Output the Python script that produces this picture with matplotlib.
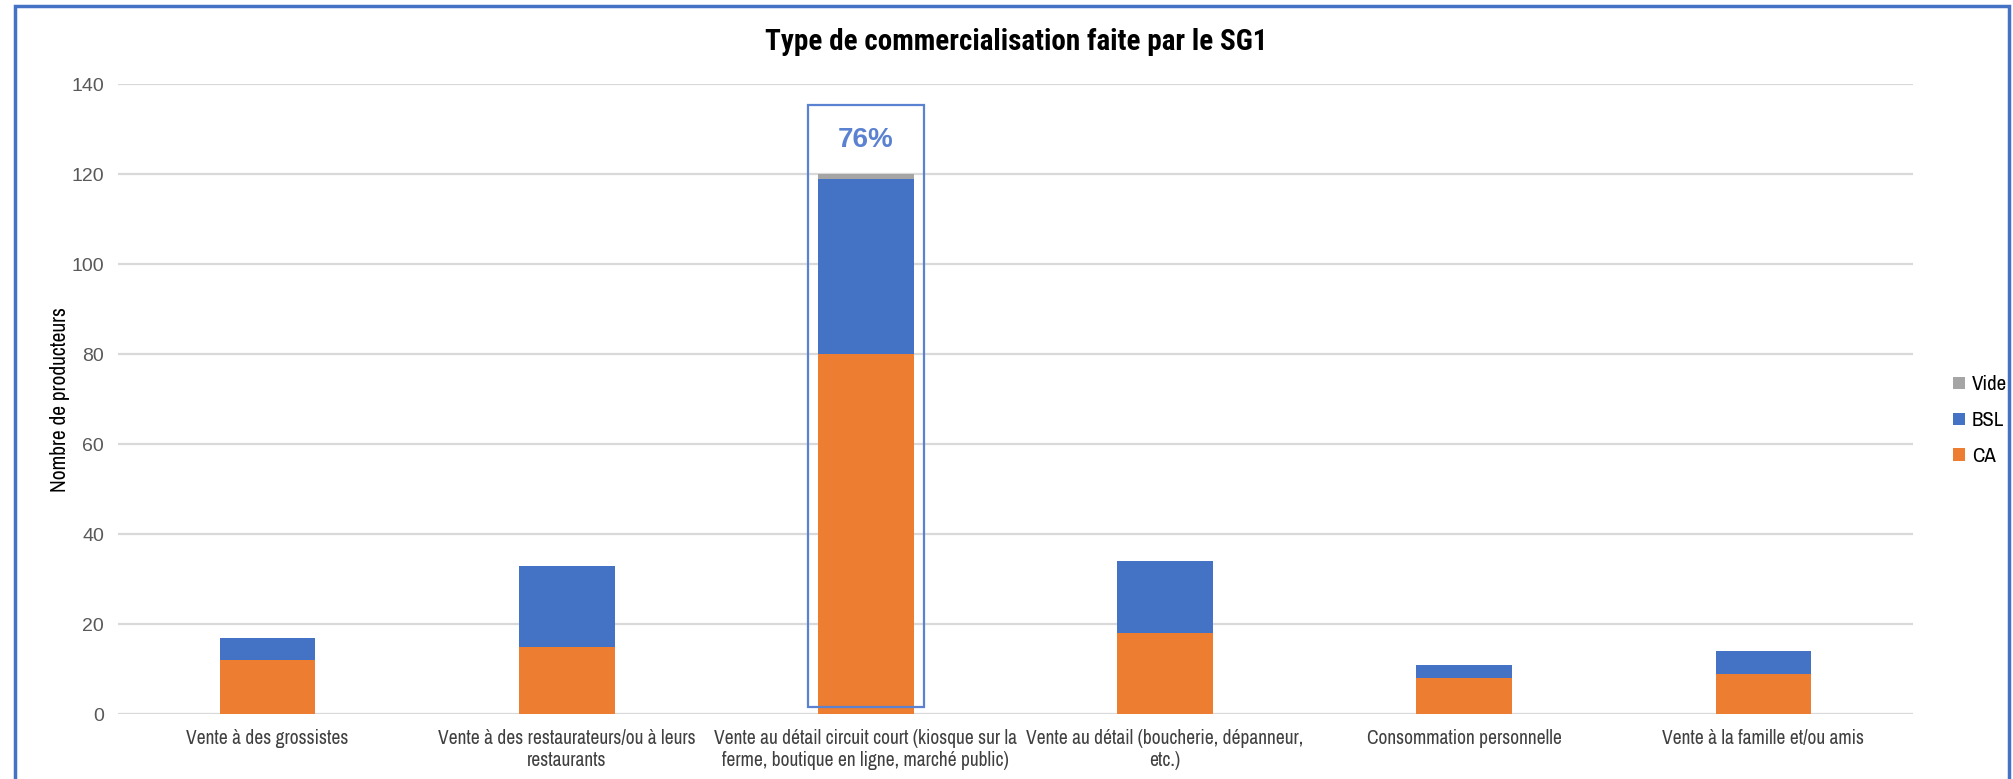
import matplotlib
matplotlib.use("Agg")
import matplotlib.pyplot as plt
from matplotlib.patches import Rectangle
import numpy as np

categories = [
    "Vente à des grossistes",
    "Vente à des restaurateurs/ou à leurs\nrestaurants",
    "Vente au détail circuit court (kiosque sur la\nferme, boutique en ligne, marché public)",
    "Vente au détail (boucherie, dépanneur,\netc.)",
    "Consommation personnelle",
    "Vente à la famille et/ou amis",
]
ca = [12, 15, 80, 18, 8, 9]
bsl = [5, 18, 39, 16, 3, 5]
vide = [0, 0, 1, 0, 0, 0]
highlight_idx = 2
highlight_label = "76%"

NARROW = ["Archivo Narrow", "DejaVu Sans"]
NARROW_BOLD = ["Roboto Condensed", "Asap Condensed", "DejaVu Sans"]
REGULAR = ["Liberation Sans", "DejaVu Sans"]
plt.rcParams["font.family"] = NARROW

fig = plt.figure(figsize=(20.13, 7.79), dpi=100)
ax = fig.add_axes([0.0586, 0.0834, 0.8917, 0.8086])

x = np.arange(len(categories))
w = 0.32
ca_a = np.array(ca)
bsl_a = np.array(bsl)
ax.bar(x, ca, w, color="#ED7D31", label="CA", zorder=3)
ax.bar(x, bsl, w, bottom=ca_a, color="#4472C4", label="BSL", zorder=3)
ax.bar(x, vide, w, bottom=ca_a + bsl_a, color="#A5A5A5", label="Vide", zorder=3)

ax.set_xlim(-0.5, len(categories) - 0.5)
ax.set_ylim(0, 140)
ax.yaxis.grid(True, color="#D9D9D9", lw=1.6, zorder=0)
ax.set_axisbelow(True)
for s in ax.spines.values():
    s.set_visible(False)
ax.tick_params(axis="both", length=0, colors="#404040")
ax.tick_params(axis="y", pad=10)
ax.tick_params(axis="x", pad=11)
ax.set_yticks(range(0, 141, 20))
ax.set_yticklabels([str(v) for v in range(0, 141, 20)], fontsize=14,
                   family=REGULAR, color="#595959")
ax.set_xticks(x)
ax.set_xticklabels(categories, fontsize=14, color="#404040", linespacing=1.2)
ax.set_ylabel("Nombre de producteurs", fontsize=15.5, color="#000000", labelpad=1)

# highlight box around the main category
ax.add_patch(Rectangle((highlight_idx - 0.195, 1.6), 0.39, 133.7, fill=False,
                       edgecolor="#5B82D0", lw=1.6, zorder=4, clip_on=False))
ax.text(highlight_idx, 127.5, highlight_label, ha="center", va="center",
        fontsize=20, fontweight="bold", color="#5B82D0", family=REGULAR)

fig.text(0.505, 0.946, "Type de commercialisation faite par le SG1", ha="center",
         va="center", fontsize=21, fontweight="bold", color="#000000",
         family=NARROW_BOLD)

handles, labels = ax.get_legend_handles_labels()
fig.legend(handles[::-1], labels[::-1], loc="center left",
           bbox_to_anchor=(0.961, 0.46), frameon=False, fontsize=15,
           handlelength=0.55, handleheight=0.55, handletextpad=0.35,
           labelspacing=0.8)

# blue chart frame
frame = Rectangle((15 / 2013, -0.05), 1 - 19 / 2013, 1.05 - 6 / 779,
                  transform=fig.transFigure, fill=False, edgecolor="#4472C4",
                  lw=2.5)
fig.patches.append(frame)

fig.savefig("out.png", dpi=100)
